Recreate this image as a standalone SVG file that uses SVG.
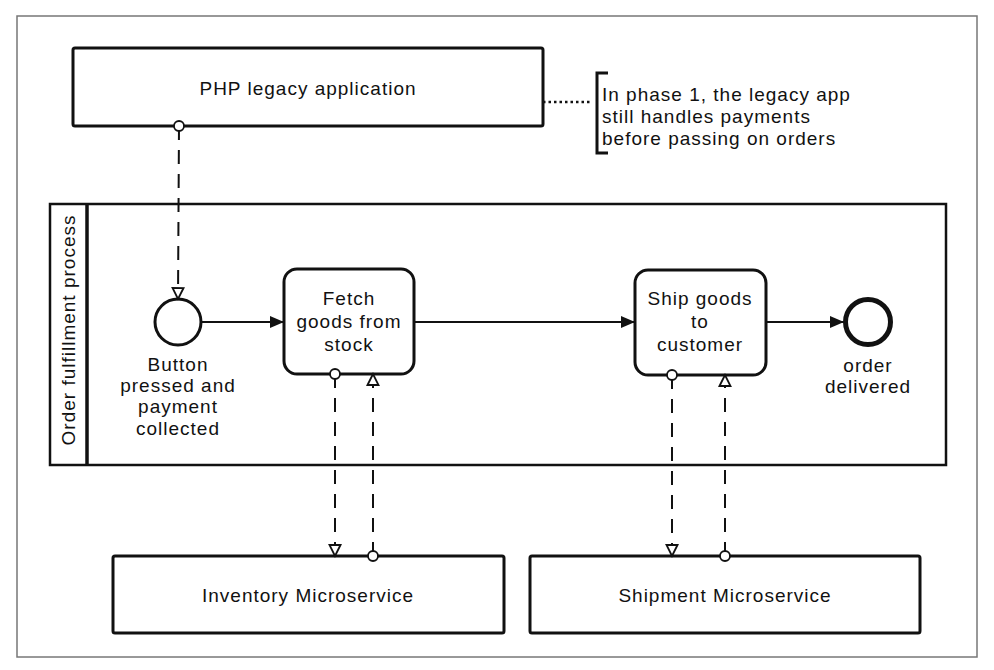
<svg xmlns="http://www.w3.org/2000/svg" width="994" height="670" viewBox="0 0 994 670">
  <defs>
    <style>
      text { font-family: "Liberation Sans", "DejaVu Sans", sans-serif; font-size: 19px; fill: #111; letter-spacing: 1px; }
      .c { text-anchor: middle; }
      .box { fill: #fff; stroke: #111; stroke-width: 3; }
      .seq { fill: none; stroke: #111; stroke-width: 2; marker-end: url(#filled); }
      .msg { fill: none; stroke: #111; stroke-width: 2; stroke-dasharray: 14 10; marker-start: url(#dot); marker-end: url(#open); }
    </style>
    <marker id="filled" markerUnits="userSpaceOnUse" markerWidth="16" markerHeight="14" refX="15" refY="7" orient="auto">
      <path d="M1,1 L15,7 L1,13 z" fill="#111" stroke="none"/>
    </marker>
    <marker id="open" markerUnits="userSpaceOnUse" markerWidth="14" markerHeight="14" refX="12" refY="7" orient="auto">
      <path d="M1,1.5 L12,7 L1,12.5 z" fill="#fff" stroke="#111" stroke-width="1.8" stroke-dasharray="none"/>
    </marker>
    <marker id="dot" markerUnits="userSpaceOnUse" markerWidth="14" markerHeight="14" refX="7" refY="7" orient="auto">
      <circle cx="7" cy="7" r="5" fill="#fff" stroke="#111" stroke-width="1.8" stroke-dasharray="none"/>
    </marker>
  </defs>

  <rect x="0" y="0" width="994" height="670" fill="#fff"/>
  <rect id="frame" x="17" y="16" width="960" height="641" fill="none" stroke="#777" stroke-width="1.5"/>

  <g id="pool">
    <rect x="50" y="204" width="896" height="261" fill="#fff" stroke="#111" stroke-width="2.5"/>
    <line x1="87" y1="204" x2="87" y2="465" stroke="#111" stroke-width="3.5"/>
    <text class="c" transform="translate(75,330) rotate(-90)">Order fulfillment process</text>
  </g>

  <g id="php">
    <rect class="box" x="73" y="48" width="470" height="78" rx="2"/>
    <text class="c" x="308" y="95">PHP legacy application</text>
  </g>

  <g id="note">
    <path d="M608,73 L597,73 L597,153 L608,153" fill="none" stroke="#111" stroke-width="3"/>
    <text x="602" y="101">In phase 1, the legacy app</text>
    <text x="602" y="123">still handles payments</text>
    <text x="602" y="145">before passing on orders</text>
  </g>

  <g id="start">
    <circle cx="178" cy="322" r="23" fill="#fff" stroke="#111" stroke-width="3"/>
    <text class="c" x="178" y="371">Button</text>
    <text class="c" x="178" y="392">pressed and</text>
    <text class="c" x="178" y="413">payment</text>
    <text class="c" x="178" y="435">collected</text>
  </g>

  <g id="fetch">
    <rect class="box" x="284" y="269" width="130" height="105" rx="13"/>
    <text class="c" x="349" y="305">Fetch</text>
    <text class="c" x="349" y="328">goods from</text>
    <text class="c" x="349" y="351">stock</text>
  </g>

  <g id="ship">
    <rect class="box" x="635" y="270" width="131" height="105" rx="13"/>
    <text class="c" x="700" y="305">Ship goods</text>
    <text class="c" x="700" y="328">to</text>
    <text class="c" x="700" y="351">customer</text>
  </g>

  <g id="end">
    <circle cx="868" cy="322" r="22.5" fill="#fff" stroke="#111" stroke-width="5"/>
    <text class="c" x="868" y="372">order</text>
    <text class="c" x="868" y="393">delivered</text>
  </g>

  <g id="inventory">
    <rect class="box" x="113" y="556" width="391" height="77" rx="2"/>
    <text class="c" x="308" y="602">Inventory Microservice</text>
  </g>

  <g id="shipment">
    <rect class="box" x="530" y="556" width="390" height="77" rx="2"/>
    <text class="c" x="725" y="602">Shipment Microservice</text>
  </g>

  <g id="connectors">
    <line x1="543" y1="102" x2="591" y2="102" stroke="#111" stroke-width="2.5" stroke-dasharray="2.5 3"/>
    <line class="seq" x1="201" y1="322" x2="284" y2="322"/>
    <line class="seq" x1="414" y1="322" x2="635" y2="322"/>
    <line class="seq" x1="766" y1="322" x2="844" y2="322"/>
    <line class="msg" x1="179" y1="126" x2="178" y2="299"/>
    <line class="msg" x1="335" y1="374" x2="335" y2="556"/>
    <line class="msg" x1="373" y1="556" x2="373" y2="374"/>
    <line class="msg" x1="672" y1="375" x2="672" y2="556"/>
    <line class="msg" x1="725" y1="556" x2="725" y2="375"/>
  </g>
</svg>
